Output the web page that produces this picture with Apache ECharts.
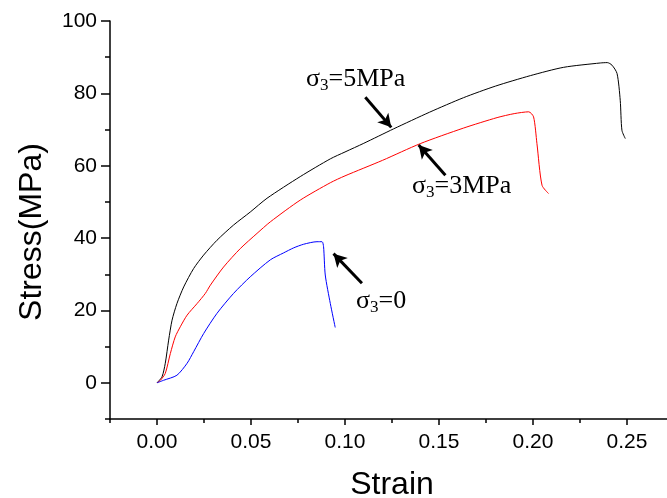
<!DOCTYPE html>
<html>
<head>
<meta charset="utf-8">
<script src="https://cdn.jsdelivr.net/npm/echarts@6/dist/echarts.min.js"></script>
<style>
html,body{margin:0;padding:0;background:#fff;}
#chart{width:667px;height:498px;}
</style>
</head>
<body>
<div id="chart"></div>
<script>
// ---- data (strain, stress in MPa) ----
const strain5 = [0,0.0027,0.0044,0.0062,0.008,0.0106,0.0142,0.0195,0.0248,0.0319,0.0407,0.0496,0.0585,0.0762,0.0922,0.10,0.11,0.1259,0.145,0.163,0.18,0.1986,0.2163,0.2358,0.2395,0.242,0.2447,0.2464,0.2473,0.2491];
const stress5 = [0,1.7,5.4,11.8,17.3,21.9,26.5,31.6,35.3,39.4,43.6,47.2,51.0,57.0,61.9,63.8,66.2,70.2,74.8,78.8,82.0,84.9,87.2,88.4,88.5,87.8,85.5,78.1,69.8,67.5];

const strain3 = [0,0.0018,0.0044,0.0071,0.0097,0.0124,0.016,0.0213,0.0257,0.0284,0.0354,0.0443,0.0532,0.0603,0.0762,0.0922,0.10,0.12,0.14,0.163,0.1809,0.19,0.1977,0.2003,0.2021,0.2048,0.2083];
const stress3 = [0,0.7,2.6,8.1,12.7,15.5,18.7,21.9,24.7,27.0,32.0,37.1,41.3,44.5,50.5,55.3,57.2,61.5,66.1,70.4,73.3,74.4,74.9,73.5,66.1,54.6,52.3];

const strain0 = [0,0.0035,0.0106,0.016,0.0195,0.0248,0.0319,0.0407,0.0496,0.0603,0.0673,0.0727,0.078,0.0851,0.0878,0.0886,0.0895,0.0922,0.0948];
const stress0 = [0,0.7,2.1,5.4,8.6,13.6,19.2,24.7,29.3,34.0,35.9,37.3,38.3,39.0,39.0,37.6,29.8,21.9,15.3];

const xTicks = [0,0.05,0.10,0.15,0.20,0.25];
const yTicks = [0,20,40,60,80,100];
const xMinorTicks = [-0.025,0.025,0.075,0.125,0.175,0.225,0.275];
const yMinorTicks = [-10,10,30,50,70,90];

// annotation arrows: [fromStrain, fromStress, toStrain, toStress]
const arrow5 = [0.1108,78.9,0.1246,70.6];
const arrow3 = [0.1534,57.4,0.1392,65.7];
const arrow0 = [0.109,27.5,0.0939,35.7];

const zip = (a,b) => a.map((v,i)=>[v,b[i]]);

const chart = echarts.init(document.getElementById('chart'), null, {renderer:'canvas'});

const axisFont = {fontFamily:'Liberation Sans', fontSize:21, color:'#000'};
const nameFont = {fontFamily:'Liberation Sans', fontSize:32, color:'#000'};

function arrowLine(a){
  return {
    silent:true,
    symbol:['none','arrow'],
    symbolSize:[11,13],
    label:{show:false},
    lineStyle:{color:'#000', width:3, type:'solid'},
    emphasis:{disabled:true},
    data:[[{coord:[a[0],a[1]]},{coord:[a[2],a[3]]}]]
  };
}

const rich = {
  a:{fontFamily:'Liberation Serif', fontSize:26, lineHeight:30, verticalAlign:'middle', color:'#000'},
  b:{fontFamily:'Liberation Serif', fontSize:17, lineHeight:14, verticalAlign:'bottom', color:'#000'}
};

const lineSeries = (name, xs, ys, color, arrow) => ({
  name, type:'line', xAxisIndex:0, yAxisIndex:0, data:zip(xs,ys), showSymbol:false,
  smooth:0.25,
  lineStyle:{color, width:1}, itemStyle:{color}, markLine:arrowLine(arrow)
});

chart.setOption({
  animation:false,
  backgroundColor:'#fff',
  grid:{left:110, right:-7, top:21, bottom:79, containLabel:false, outerBoundsMode:'none'},
  xAxis:[{
    type:'value', min:-0.025, max:0.275,
    name:'Strain', nameLocation:'middle', nameGap:50, nameTextStyle:nameFont,
    axisLine:{show:true, onZero:false, lineStyle:{color:'#000', width:1.5}},
    axisTick:{show:true, inside:false, length:6, customValues:xTicks, lineStyle:{color:'#000', width:1.5}},
    axisLabel:{show:true, margin:13, customValues:xTicks, formatter:v=>Number(v).toFixed(2), ...axisFont},
    splitLine:{show:false}
  },{
    type:'value', min:-0.025, max:0.275, position:'bottom',
    axisLine:{show:false, onZero:false},
    axisTick:{show:true, inside:false, length:4, customValues:xMinorTicks, lineStyle:{color:'#000', width:1.5}},
    axisLabel:{show:false},
    splitLine:{show:false}
  }],
  yAxis:[{
    type:'value', min:-10, max:100,
    name:'Stress(MPa)', nameLocation:'middle', nameGap:62,
    nameTextStyle:{...nameFont, padding:[0,24,0,0]},
    axisLine:{show:true, onZero:false, lineStyle:{color:'#000', width:1.5}},
    axisTick:{show:true, inside:false, length:9, customValues:yTicks, lineStyle:{color:'#000', width:1.5}},
    axisLabel:{show:true, margin:13, customValues:yTicks, ...axisFont},
    splitLine:{show:false}
  },{
    type:'value', min:-10, max:100, position:'left',
    axisLine:{show:false, onZero:false},
    axisTick:{show:true, inside:false, length:5, customValues:yMinorTicks, lineStyle:{color:'#000', width:1.5}},
    axisLabel:{show:false},
    splitLine:{show:false}
  }],
  series:[
    lineSeries('σ3=5MPa', strain5, stress5, '#000000', arrow5),
    lineSeries('σ3=3MPa', strain3, stress3, '#ff0000', arrow3),
    lineSeries('σ3=0', strain0, stress0, '#0000ff', arrow0)
  ],
  graphic:[
    {type:'text', left:306, top:66, silent:true, style:{text:'{a|σ}{b|3}{a|=5MPa}', rich:rich}},
    {type:'text', left:412, top:173, silent:true, style:{text:'{a|σ}{b|3}{a|=3MPa}', rich:rich}},
    {type:'text', left:356, top:288, silent:true, style:{text:'{a|σ}{b|3}{a|=0}', rich:rich}}
  ]
});
</script>
</body>
</html>
